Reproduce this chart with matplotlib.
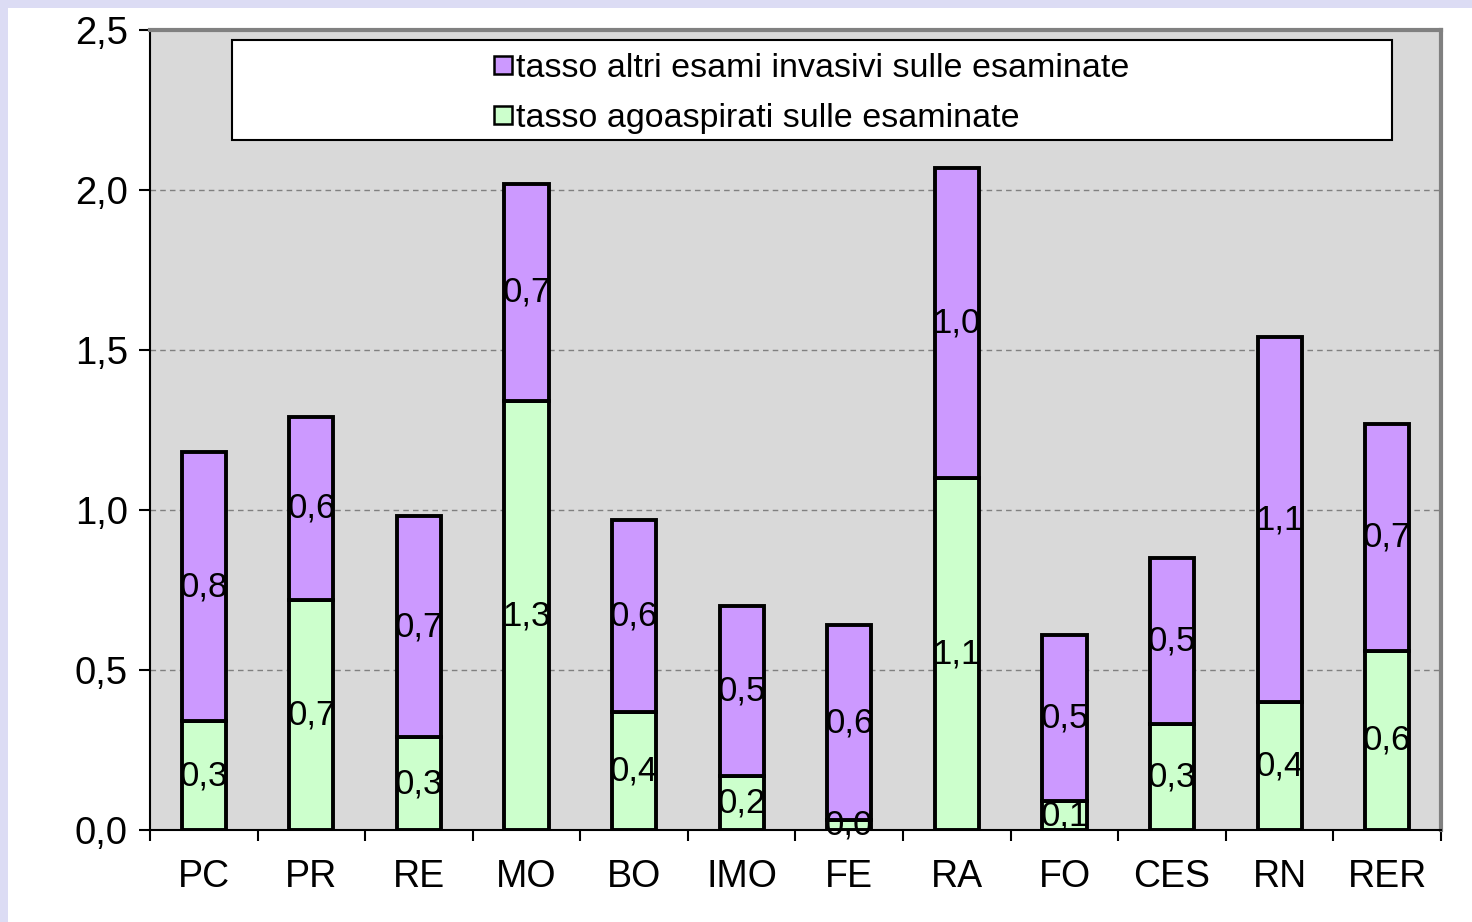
import matplotlib
matplotlib.use('Agg')
import matplotlib.pyplot as plt
import numpy as np
from matplotlib.patches import Rectangle
from matplotlib.lines import Line2D

plt.rcParams['font.family'] = ['Liberation Sans', 'DejaVu Sans']

# dati
province = ['PC', 'PR', 'RE', 'MO', 'BO', 'IMO', 'FE', 'RA', 'FO', 'CES', 'RN', 'RER']
agoaspirati = [0.34, 0.72, 0.29, 1.34, 0.37, 0.17, 0.03, 1.10, 0.09, 0.33, 0.40, 0.56]
altri_esami = [0.84, 0.57, 0.69, 0.68, 0.60, 0.53, 0.61, 0.97, 0.52, 0.52, 1.14, 0.71]
yticks = [0.0, 0.5, 1.0, 1.5, 2.0, 2.5]

col_verde = '#ccffcc'
col_viola = '#cc99ff'

fig = plt.figure(figsize=(14.72, 9.22), dpi=100)
fig.patch.set_facecolor('#dcdcf4')
# area bianca dentro la cornice lilla
fig.patches.append(Rectangle((8 / 1472, 0), 1 - 8 / 1472, 1 - 8 / 922,
                             transform=fig.transFigure, facecolor='white',
                             edgecolor='none', zorder=-10))

ax = fig.add_axes([150 / 1472, 92 / 922, 1291 / 1472, 800 / 922])
ax.set_facecolor('#d9d9d9')

x = np.arange(len(province))
w = 0.41
ax.bar(x, agoaspirati, w, color=col_verde, edgecolor='black', linewidth=2.8, zorder=3)
ax.bar(x, altri_esami, w, bottom=agoaspirati, color=col_viola, edgecolor='black',
       linewidth=2.8, zorder=3)

# etichette dei valori al centro di ogni segmento
for i in range(len(province)):
    g = agoaspirati[i]
    p = altri_esami[i]
    ax.text(x[i], g / 2, f'{g:.1f}'.replace('.', ','), ha='center', va='center',
            fontsize=25, zorder=4)
    ax.text(x[i], g + p / 2, f'{p:.1f}'.replace('.', ','), ha='center', va='center',
            fontsize=25, zorder=4)

ax.set_xlim(-0.5, len(province) - 0.5)
ax.set_ylim(0, 2.5)
ax.set_yticks(yticks)
ax.set_yticklabels([f'{v:.1f}'.replace('.', ',') for v in yticks], fontsize=27.5)
ax.set_xticks(x)
ax.set_xticklabels(province, fontsize=27)
ax.set_xticks(np.arange(len(province) + 1) - 0.5, minor=True)
ax.tick_params(axis='x', which='major', length=0, pad=21)
ax.tick_params(axis='x', which='minor', length=8, width=1.5, direction='out')
ax.tick_params(axis='y', length=8, width=1.5, direction='out', pad=8)

ax.yaxis.grid(True, linestyle=(0, (4, 3)), color='#808080', linewidth=1, zorder=1)
ax.set_axisbelow(True)

ax.spines['left'].set_linewidth(1.5)
ax.spines['bottom'].set_linewidth(1.5)
ax.spines['top'].set_color('#808080')
ax.spines['right'].set_color('#808080')
ax.spines['top'].set_linewidth(3)
ax.spines['right'].set_linewidth(3)

# legenda: riquadro bianco con voci centrate
lx0 = (232 - 150) / 1291
lx1 = (1392 - 150) / 1291
ly0 = (830 - 140) / 800
ly1 = (830 - 40) / 800
ax.add_patch(Rectangle((lx0, ly0), lx1 - lx0, ly1 - ly0, transform=ax.transAxes,
                       facecolor='white', edgecolor='black', linewidth=1.5, zorder=5))
handles = [
    Line2D([], [], marker='s', linestyle='none', markersize=13, markerfacecolor=col_viola,
           markeredgecolor='black', markeredgewidth=1.8),
    Line2D([], [], marker='s', linestyle='none', markersize=13, markerfacecolor=col_verde,
           markeredgecolor='black', markeredgewidth=1.8),
]
leg = ax.legend(handles, ['tasso altri esami invasivi sulle esaminate',
                          'tasso agoaspirati sulle esaminate'],
                loc='center', bbox_to_anchor=((lx0 + lx1) / 2, (ly0 + ly1) / 2 - 3.5 / 800),
                bbox_transform=ax.transAxes, frameon=False, fontsize=24.5,
                handlelength=0.5, handletextpad=0.15, labelspacing=0.57,
                alignment='left')
leg.set_zorder(6)

fig.savefig('out.png', dpi=100, facecolor=fig.get_facecolor())
